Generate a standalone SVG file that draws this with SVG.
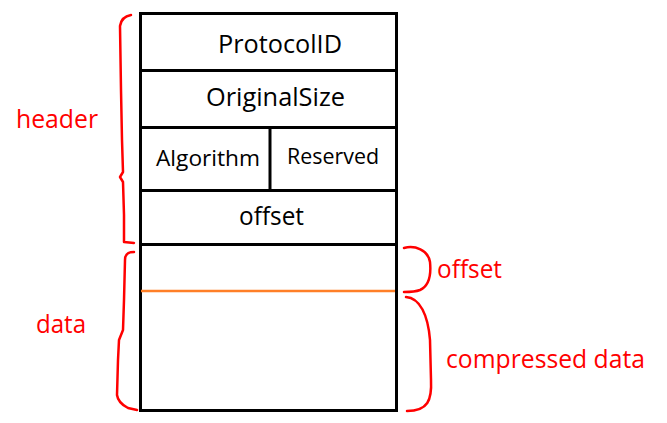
<svg xmlns="http://www.w3.org/2000/svg" width="667" height="423" viewBox="0 0 667 423">
<style>
.box{fill:none;stroke:#000;stroke-width:3}
.ln{stroke:#000;stroke-width:3}
.t{font-family:"Open Sans","Noto Sans","DejaVu Sans",sans-serif;fill:#000}
.r{font-family:"Open Sans","Noto Sans","DejaVu Sans",sans-serif;fill:#ff0000;font-size:25px}
.br{fill:none;stroke:#ff0000;stroke-width:2.5;stroke-linecap:round;stroke-linejoin:round}
</style>
<rect width="667" height="423" fill="#fff"/>
<g id="frame">
<rect class="box" x="140.5" y="13.5" width="256" height="397"/>
</g>
<g id="protocolid">
<line class="ln" x1="140" y1="70.5" x2="398" y2="70.5"/>
<text class="t" x="218" y="53" font-size="25" textLength="124" lengthAdjust="spacingAndGlyphs">ProtocolID</text>
</g>
<g id="originalsize">
<line class="ln" x1="140" y1="127.5" x2="398" y2="127.5"/>
<text class="t" x="206" y="106" font-size="25" textLength="139" lengthAdjust="spacingAndGlyphs">OriginalSize</text>
</g>
<g id="algorithm">
<line class="ln" x1="270" y1="127" x2="270" y2="190"/>
<text class="t" x="156" y="166" font-size="22" textLength="104" lengthAdjust="spacingAndGlyphs">Algorithm</text>
</g>
<g id="reserved">
<text class="t" x="287" y="164" font-size="21" textLength="92" lengthAdjust="spacingAndGlyphs">Reserved</text>
</g>
<g id="offset">
<line class="ln" x1="140" y1="190.5" x2="398" y2="190.5"/>
<text class="t" x="239" y="225" font-size="25" textLength="65" lengthAdjust="spacingAndGlyphs">offset</text>
</g>
<g id="data">
<line class="ln" x1="140" y1="244.5" x2="398" y2="244.5"/>
<line x1="141" y1="291" x2="395" y2="291" stroke="#ff7f27" stroke-width="2.5"/>
</g>
<g id="connectors">
<path class="br" d="M131,15 C125,16 121,19 120,26 L121,90 L122,140 L123,172 L120,177 L123,182 L124,215 L124,242 L134,243"/>
<path class="br" d="M134,252 C128,252 125,254 125,260 L124,300 L123,330 L119,340 L118,360 L117,395 C118,402 124,406 128,408 L137,410"/>
<path class="br" d="M404,248 C415,245 428,250 430,262 C431,272 431,285 420,290 C415,292 410,292 404,292"/>
<path class="br" d="M406,297 C420,298 428,315 430,340 L431,380 C432,400 428,411 407,411"/>
</g>
<g id="labels">
<text class="r" x="16" y="128" textLength="82" lengthAdjust="spacingAndGlyphs">header</text>
<text class="r" x="36" y="333" textLength="50" lengthAdjust="spacingAndGlyphs">data</text>
<text class="r" x="437" y="278" textLength="65" lengthAdjust="spacingAndGlyphs">offset</text>
<text class="r" x="446" y="368" textLength="199" lengthAdjust="spacingAndGlyphs">compressed data</text>
</g>
</svg>
